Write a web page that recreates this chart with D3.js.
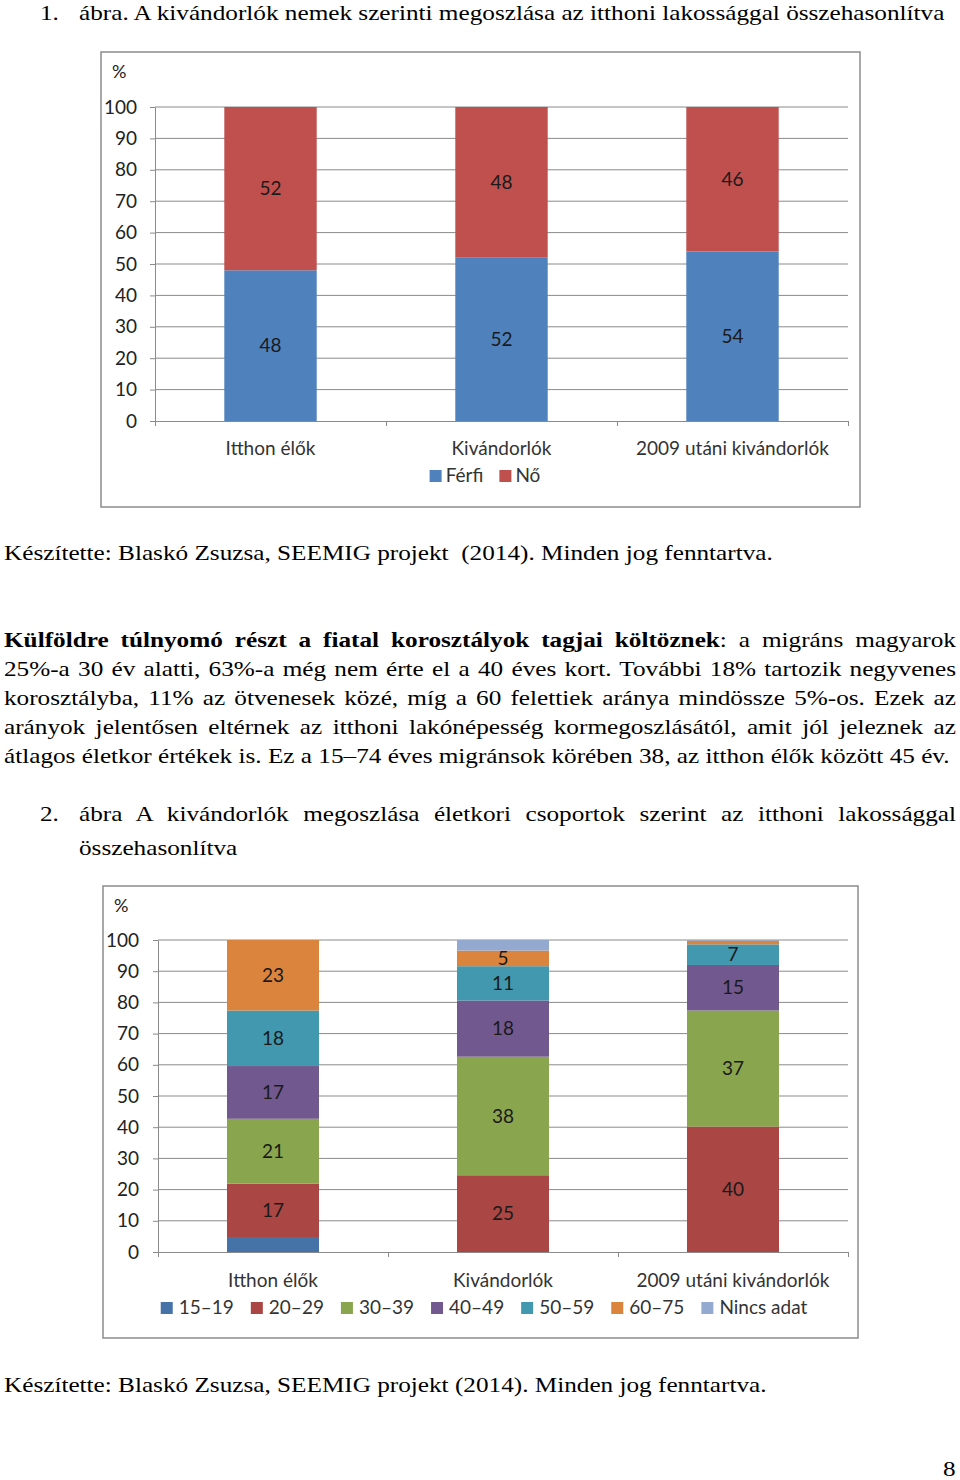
<!DOCTYPE html>
<html>
<head>
<meta charset="utf-8">
<script src="https://cdn.jsdelivr.net/npm/d3@7/dist/d3.min.js"></script>
<style>
  body { margin: 0; background: #fff; }
  #page { position: relative; width: 960px; height: 1480px; overflow: hidden; }
  #page svg { position: absolute; left: 0; top: 0; }
  .ln { position: absolute; font-family: "Liberation Serif", "Times New Roman", serif; font-size: 22px;
        line-height: 29px; white-space: pre; color: #000; transform-origin: 0 0; }
  .just { text-align: justify; text-align-last: justify; white-space: nowrap; }
</style>
</head>
<body>
<div id="page"></div>
<script>
// ---- data ----
const categories = ["Itthon élők", "Kivándorlók", "2009 utáni kivándorlók"];
const yTicks = [0, 10, 20, 30, 40, 50, 60, 70, 80, 90, 100];

const genderKeys = ["Férfi", "Nő"];
const ferfi = [48, 52, 54];
const no = [52, 48, 46];
const genderColors = ["#4F81BD", "#C0504D"];

const ageKeys = ["15–19", "20–29", "30–39", "40–49", "50–59", "60–75", "Nincs adat"];
const age1519 = [4.8, 0, 0];
const age2029 = [17.1, 24.6, 40.2];
const age3039 = [20.8, 38.0, 37.2];
const age4049 = [16.9, 18.0, 14.6];
const age5059 = [17.8, 11.0, 6.6];
const age6075 = [22.6, 5.0, 1.2];
const ageNincs = [0, 3.4, 0.2];
const ageColors = ["#4572A7", "#AA4643", "#89A54E", "#71588F", "#4198AF", "#DB843D", "#93A9CF"];

const page = d3.select("#page");
const svg = page.append("svg").attr("width", 960).attr("height", 1480);

const chartFont = "Lato, 'Open Sans', sans-serif";
const gridColor = "#8a8a8a";

function drawChart(cfg) {
  const { box, x0, x1, yTop, yBottom, keys, series, colors } = cfg;
  const g = svg.append("g");

  g.append("rect")
    .attr("x", box.x).attr("y", box.y).attr("width", box.w).attr("height", box.h)
    .attr("fill", "#fff").attr("stroke", "#8c8c8c").attr("stroke-width", 1.5);

  const rows = categories.map((c, i) => {
    const r = { cat: c };
    keys.forEach((k, j) => (r[k] = series[j][i]));
    return r;
  });
  const stacked = d3.stack().keys(keys)(rows);

  const y = d3.scaleLinear().domain([0, 100]).range([yBottom, yTop]);
  const x = d3.scaleBand().domain(categories).range([x0, x1]).paddingInner(0.6).paddingOuter(0.3);
  const xb = d3.scaleLinear().domain([0, categories.length]).range([x0, x1]);

  // grid
  g.append("g").selectAll("line").data(yTicks.filter((t) => t > 0)).join("line")
    .attr("x1", x0).attr("x2", x1).attr("y1", (d) => y(d)).attr("y2", (d) => y(d))
    .attr("stroke", gridColor).attr("stroke-width", 1);

  // y axis
  const ya = g.append("g").attr("transform", `translate(${x0},0)`)
    .call(d3.axisLeft(y).tickValues(yTicks).tickSize(5).tickPadding(cfg.tickPad).tickSizeOuter(0));
  ya.selectAll("path, line").attr("stroke", gridColor);
  ya.selectAll("text").attr("font-family", chartFont).attr("font-size", 19).attr("fill", "#222");

  // x axis
  const xa = g.append("g").attr("transform", `translate(0,${yBottom})`)
    .call(d3.axisBottom(xb).tickValues(d3.range(categories.length + 1)).tickSize(5).tickFormat("").tickSizeOuter(0));
  xa.selectAll("path, line").attr("stroke", gridColor);

  // bars
  const layers = g.append("g").selectAll("g").data(stacked).join("g")
    .attr("fill", (d, i) => colors[i]);
  layers.selectAll("rect").data((d) => d).join("rect")
    .attr("x", (d) => x(d.data.cat))
    .attr("width", x.bandwidth())
    .attr("y", (d) => y(d[1]))
    .attr("height", (d) => y(d[0]) - y(d[1]));

  // data labels
  layers.selectAll("text").data((d) => d.filter((p) => p[1] - p[0] >= 5)).join("text")
    .attr("x", (d) => x(d.data.cat) + x.bandwidth() / 2)
    .attr("y", (d) => y((d[0] + d[1]) / 2))
    .attr("dy", "0.35em")
    .attr("text-anchor", "middle")
    .attr("font-family", chartFont).attr("font-size", 19).attr("fill", "#1a1a1a")
    .text((d) => Math.round(d[1] - d[0]));

  // % unit
  g.append("text").attr("x", cfg.pctX).attr("y", cfg.pctY)
    .attr("font-family", chartFont).attr("font-size", 18).attr("fill", "#222").text("%");

  // category labels
  g.append("g").selectAll("text").data(categories).join("text")
    .attr("x", (d) => x(d) + x.bandwidth() / 2)
    .attr("y", cfg.catY)
    .attr("text-anchor", "middle")
    .attr("font-family", chartFont).attr("font-size", 19).attr("fill", "#333")
    .text((d) => d);

  // legend
  const lg = g.append("g");
  const items = lg.selectAll("g").data(keys).join("g");
  items.append("rect").attr("width", 12).attr("height", 12).attr("y", -12)
    .attr("fill", (d, i) => colors[i]);
  items.append("text").attr("x", cfg.legendPad)
    .attr("font-family", chartFont).attr("font-size", 19).attr("fill", "#333")
    .text((d) => d);
  let cx = 0;
  items.each(function () {
    d3.select(this).attr("transform", `translate(${cx},0)`);
    cx += cfg.legendPad + d3.select(this).select("text").node().getComputedTextLength() + cfg.legendGap;
  });
  const total = cx - cfg.legendGap;
  lg.attr("transform", `translate(${cfg.legendCx - total / 2},${cfg.legendY})`);
}

drawChart({
  box: { x: 101, y: 52, w: 759, h: 455 },
  x0: 155, x1: 848, yTop: 107, yBottom: 421, tickPad: 13,
  keys: genderKeys, series: [ferfi, no], colors: genderColors,
  pctX: 112, pctY: 78, catY: 455, legendY: 482, legendCx: 485, legendGap: 16, legendPad: 16
});

drawChart({
  box: { x: 103, y: 886, w: 755, h: 452 },
  x0: 158, x1: 848, yTop: 940, yBottom: 1252, tickPad: 14,
  keys: ageKeys,
  series: [age1519, age2029, age3039, age4049, age5059, age6075, ageNincs],
  colors: ageColors,
  pctX: 114, pctY: 912, catY: 1287, legendY: 1314, legendCx: 484, legendGap: 17, legendPad: 18
});

// ---- text around the charts ----
const sx = 1.146; // horizontal stretch of the scanned body text
function line(left, top, html, opts = {}) {
  const d = page.append("div").attr("class", "ln" + (opts.just ? " just" : ""))
    .style("left", left + "px").style("top", top + "px")
    .style("transform", `scaleX(${sx})`).html(html);
  if (opts.width) d.style("width", opts.width / sx + "px");
  if (opts.lh) d.style("line-height", opts.lh + "px");
  return d;
}

line(40, -2, "1.");
line(79, -2, "ábra. A kivándorlók nemek szerinti megoszlása az itthoni lakossággal összehasonlítva");
line(4, 538, "Készítette: Blaskó Zsuzsa, SEEMIG projekt  (2014). Minden jog fenntartva.");

const para = [
  "<b>Külföldre túlnyomó részt a fiatal korosztályok tagjai költöznek</b>: a migráns magyarok",
  "25%-a 30 év alatti, 63%-a még nem érte el a 40 éves kort. További 18% tartozik negyvenes",
  "korosztályba, 11% az ötvenesek közé, míg a 60 felettiek aránya mindössze 5%-os. Ezek az",
  "arányok jelentősen eltérnek az itthoni lakónépesség kormegoszlásától, amit jól jeleznek az",
  "átlagos életkor értékek is. Ez a 15–74 éves migránsok körében 38, az itthon élők között 45 év."
];
para.forEach((t, i) => {
  const last = i === para.length - 1;
  line(4, 625 + i * 29, t, last ? {} : { just: true, width: 952 });
});

line(40, 799, "2.");
line(79, 799, "ábra A kivándorlók megoszlása életkori csoportok szerint az itthoni lakossággal", { just: true, width: 877 });
line(79, 833, "összehasonlítva");

line(4, 1370, "Készítette: Blaskó Zsuzsa, SEEMIG projekt (2014). Minden jog fenntartva.");
line(943, 1460, "8", { lh: 18 });
</script>
</body>
</html>
